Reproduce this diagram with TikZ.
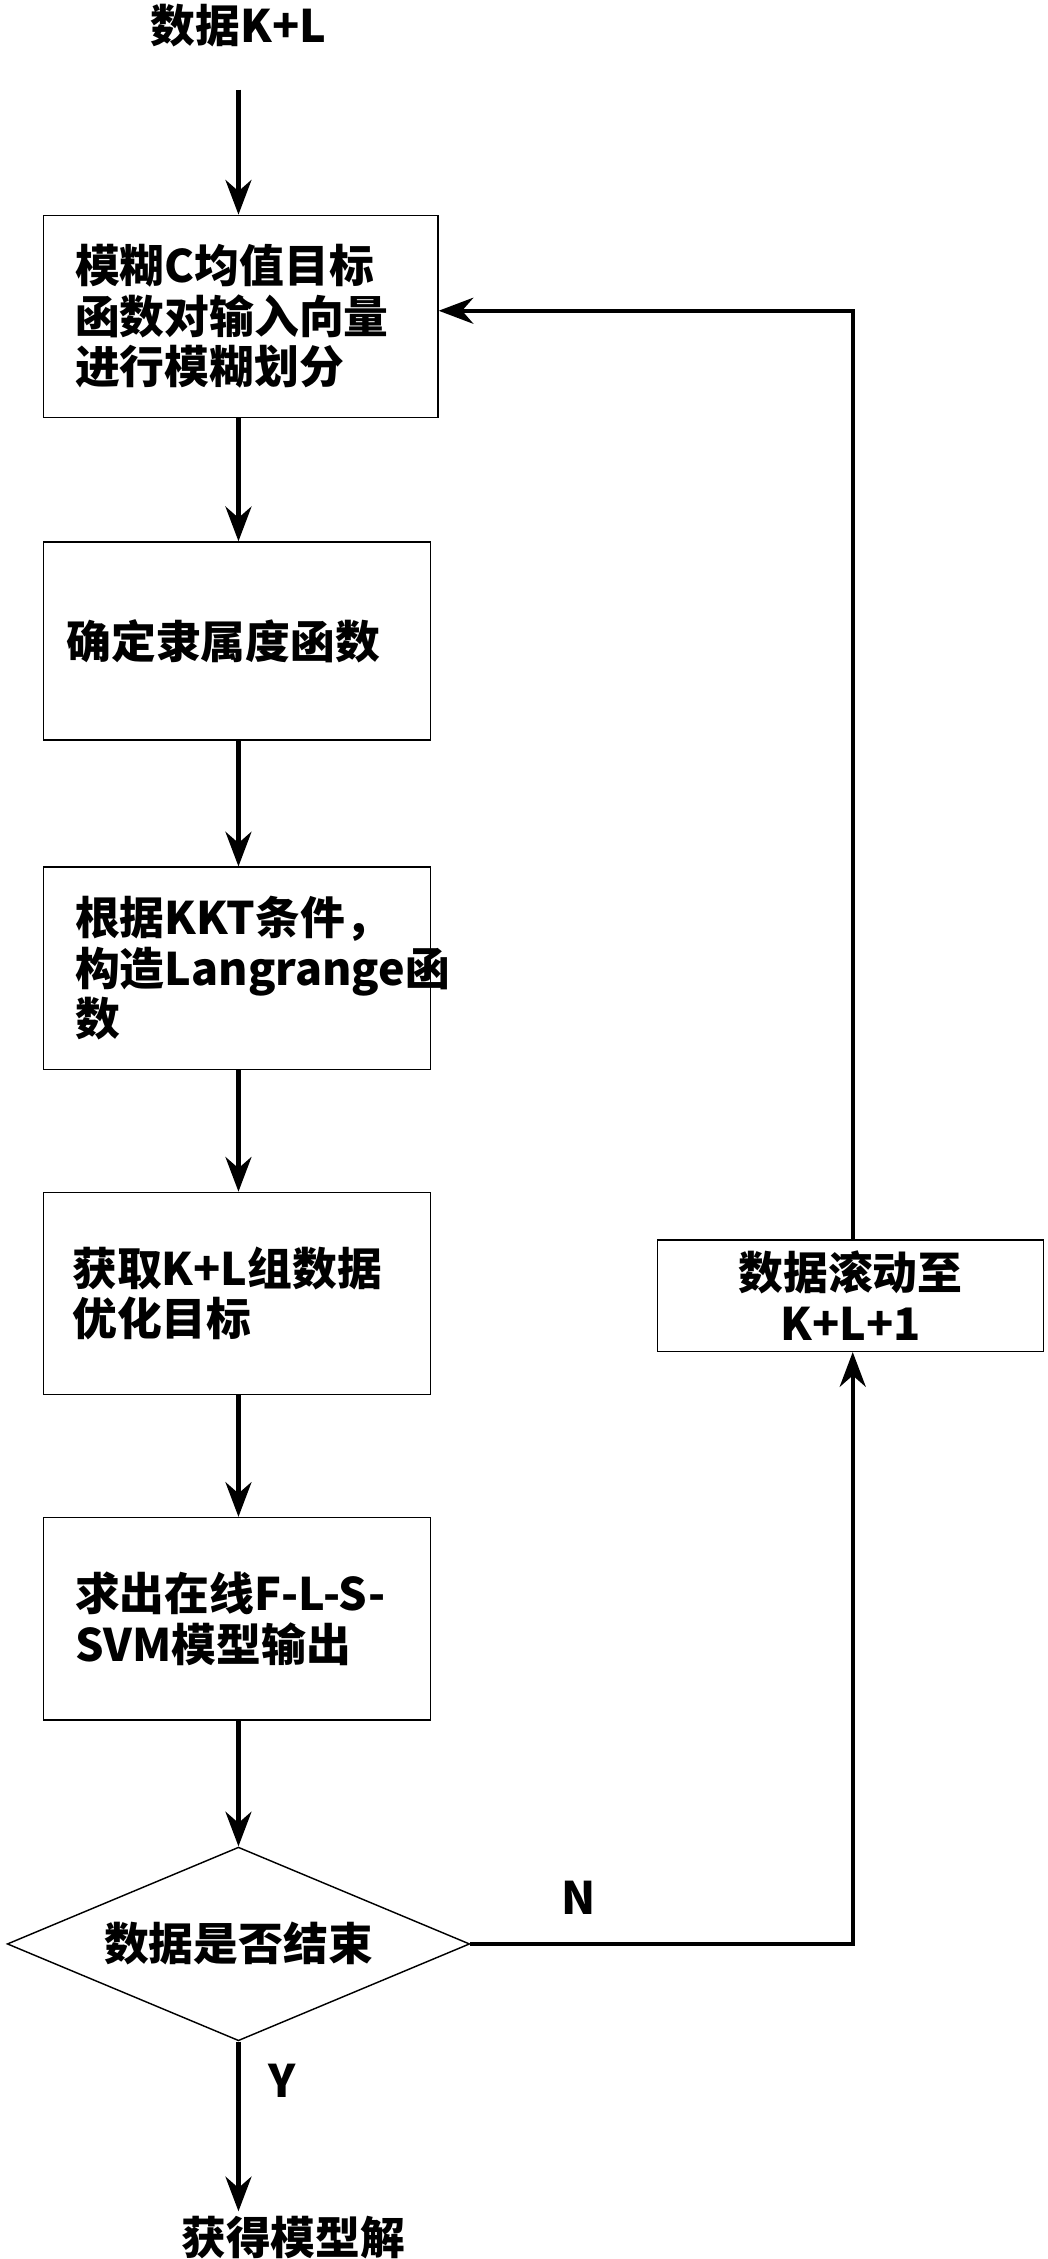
\documentclass[tikz,border=0pt]{standalone}
\usepackage{fontspec}
\setmainfont{Noto Sans CJK SC}
\usetikzlibrary{shapes.geometric,arrows.meta}
\begin{document}
\begin{tikzpicture}[x=1pt,y=-1pt,
  font=\fontsize{31}{35}\selectfont\bfseries,
  box/.style={draw,line width=1pt,rectangle,minimum height=140pt,align=left,inner xsep=16pt},
  arr/.style={-{Stealth[length=24pt,width=18pt]},line width=3pt},
  ln/.style={line width=3pt}]
\useasboundingbox (0,0) rectangle (725,1563);
\node (in) at (165,18) {数据K+L};
\node[box,minimum width=273pt,text width=241pt,inner xsep=22pt,text width=229pt] (b1) at (166.5,219) {模糊C均值目标\\函数对输入向量\\进行模糊划分};
\node[box,minimum width=268pt,text width=236pt,minimum height=137pt] (b2) at (164,443.5) {确定隶属度函数};
\node[box,minimum width=268pt,text width=236pt,inner xsep=22pt,text width=224pt] (b3) at (164,670) {根据KKT条件，\\构造Langrange函\\数};
\node[box,minimum width=268pt,text width=236pt,inner xsep=20pt,text width=228pt] (b4) at (164,895) {获取K+L组数据\\优化目标};
\node[box,minimum width=268pt,text width=236pt,inner xsep=22pt,text width=224pt] (b5) at (164,1120) {求出在线F-L-S-\\SVM模型输出};
\node[draw,line width=1pt,diamond,aspect=2.4,minimum width=320pt,minimum height=134pt,inner sep=0pt] (d) at (165,1345) {数据是否结束};
\node[draw,line width=1pt,rectangle,minimum width=267pt,minimum height=77pt,align=center,inner sep=2pt] (b6) at (588.5,896.5) {数据滚动至\\K+L+1};
\node (out) at (203,1548) {获得模型解};
\node at (195,1440) {Y};
\node at (400,1313) {N};
\coordinate (top) at (165,62);
\coordinate (bot) at (165,1530);
\coordinate (c1) at (590,1345);
\coordinate (c2) at (590,215);
\draw[arr] (top) -- (b1.north -| top);
\draw[arr] (b1.south -| top) -- (b2.north -| top);
\draw[arr] (b2.south -| top) -- (b3.north -| top);
\draw[arr] (b3.south -| top) -- (b4.north -| top);
\draw[arr] (b4.south -| top) -- (b5.north -| top);
\draw[arr] (b5.south -| top) -- (d.north);
\draw[arr] (d.south) -- (bot);
\draw[ln,-{Stealth[length=24pt,width=18pt]}] (d.east) -- (c1) -- (b6.south -| c1);
\draw[ln,-{Stealth[length=24pt,width=18pt]}] (b6.north -| c1) -- (c2) -- (b1.east |- c2);
\end{tikzpicture}
\end{document}
